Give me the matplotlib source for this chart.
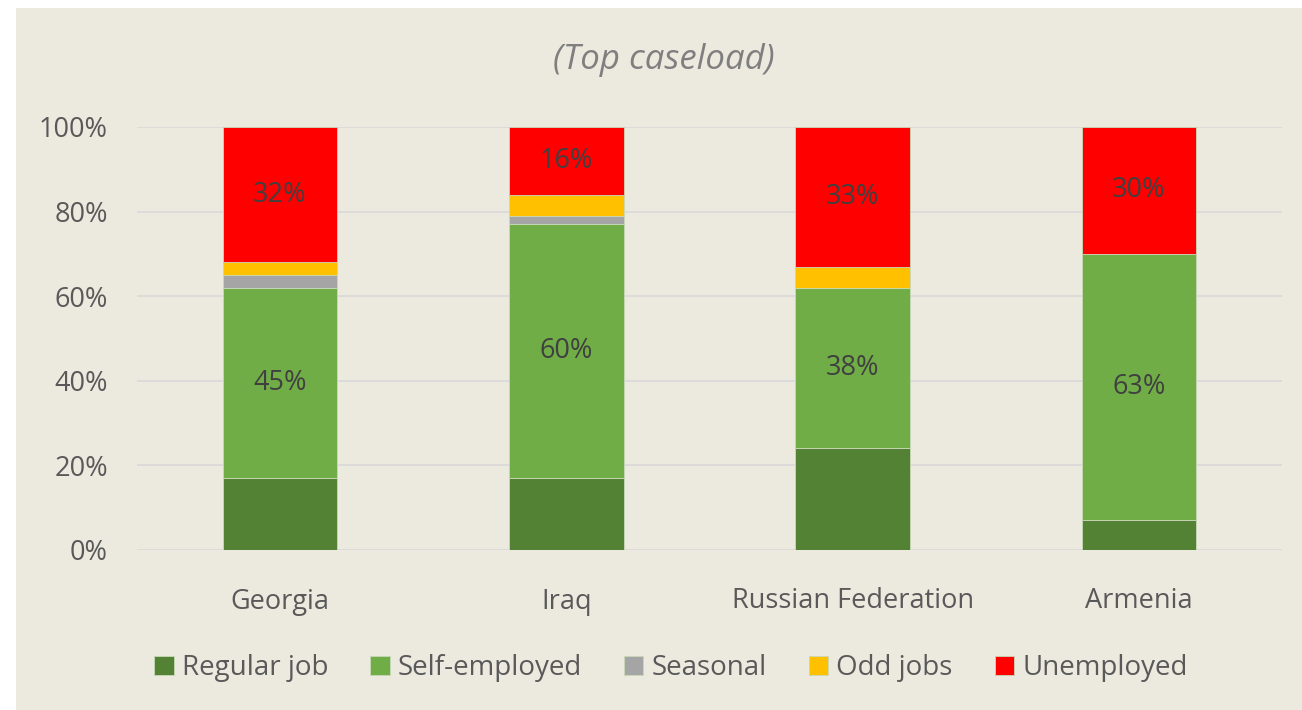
import numpy as np
import matplotlib
matplotlib.use("Agg")
import matplotlib.pyplot as plt
from matplotlib.patches import Rectangle

plt.rcParams['font.family'] = ['Open Sans', 'DejaVu Sans']

# data (percent of caseload)
countries = ['Georgia', 'Iraq', 'Russian Federation', 'Armenia']
series_names = ['Regular job', 'Self-employed', 'Seasonal', 'Odd jobs', 'Unemployed']
regular_job = [17, 17, 24, 7]
self_employed = [45, 60, 38, 63]
seasonal = [3, 2, 0, 0]
odd_jobs = [3, 5, 5, 0]
unemployed = [32, 16, 33, 30]
labelled = ['Self-employed', 'Unemployed']

colors = ['#548235', '#70AD47', '#A5A5A5', '#FFC000', '#FF0000']
bg = '#ECE9DF'
text_col = '#595959'

fig = plt.figure(figsize=(13.02, 7.1), dpi=100)
fig.patch.set_facecolor('white')
fig.patches.append(Rectangle((16 / 1302, 0), 1 - 16 / 1302, 1 - 8 / 710,
                             transform=fig.transFigure, facecolor=bg,
                             edgecolor='none', zorder=-10))

ax = fig.add_axes([137 / 1302, 1 - 550 / 710, (1282 - 137) / 1302, (550 - 127) / 710])
ax.set_facecolor('none')

x = np.arange(len(countries))
bottom = np.zeros(len(countries))
for name, vals, c in zip(series_names,
                         [regular_job, self_employed, seasonal, odd_jobs, unemployed],
                         colors):
    vals = np.array(vals, dtype=float)
    ax.bar(x, vals, 0.40, bottom=bottom, color=c, label=name,
           edgecolor='#c8d8b8', linewidth=0.6, zorder=3)
    if name in labelled:
        for xi, b, v in zip(x, bottom, vals):
            ax.text(xi, b + v / 2, f'{v:.0f}%', ha='center', va='center',
                    fontsize=19.5, color='#404040', zorder=4)
    bottom += vals

ax.set_xlim(-0.5, 3.5)
ax.set_ylim(0, 100)
ax.set_yticks(np.arange(0, 101, 20))
ax.set_yticklabels([f'{v}%' for v in range(0, 101, 20)])
ax.set_xticks(x)
ax.set_xticklabels(countries)
ax.tick_params(axis='both', length=0, labelsize=19.5, labelcolor=text_col)
ax.tick_params(axis='y', pad=21)
ax.tick_params(axis='x', pad=27)
ax.grid(axis='y', color='#D9D9D9', linewidth=1.2, zorder=0)
for s in ax.spines.values():
    s.set_visible(False)

fig.text(664 / 1302, 1 - 60 / 710, '(Top caseload)', ha='center', va='center',
         fontsize=25, style='italic', color='#7F7F7F')

leg = fig.legend(loc='center', bbox_to_anchor=(671 / 1302, 1 - 668 / 710), ncol=5,
                 frameon=False, fontsize=20, handlelength=0.7, handleheight=0.7,
                 handletextpad=0.3, columnspacing=1.5)
for t in leg.get_texts():
    t.set_color(text_col)

fig.savefig('out.png', dpi=100, facecolor=fig.get_facecolor())
